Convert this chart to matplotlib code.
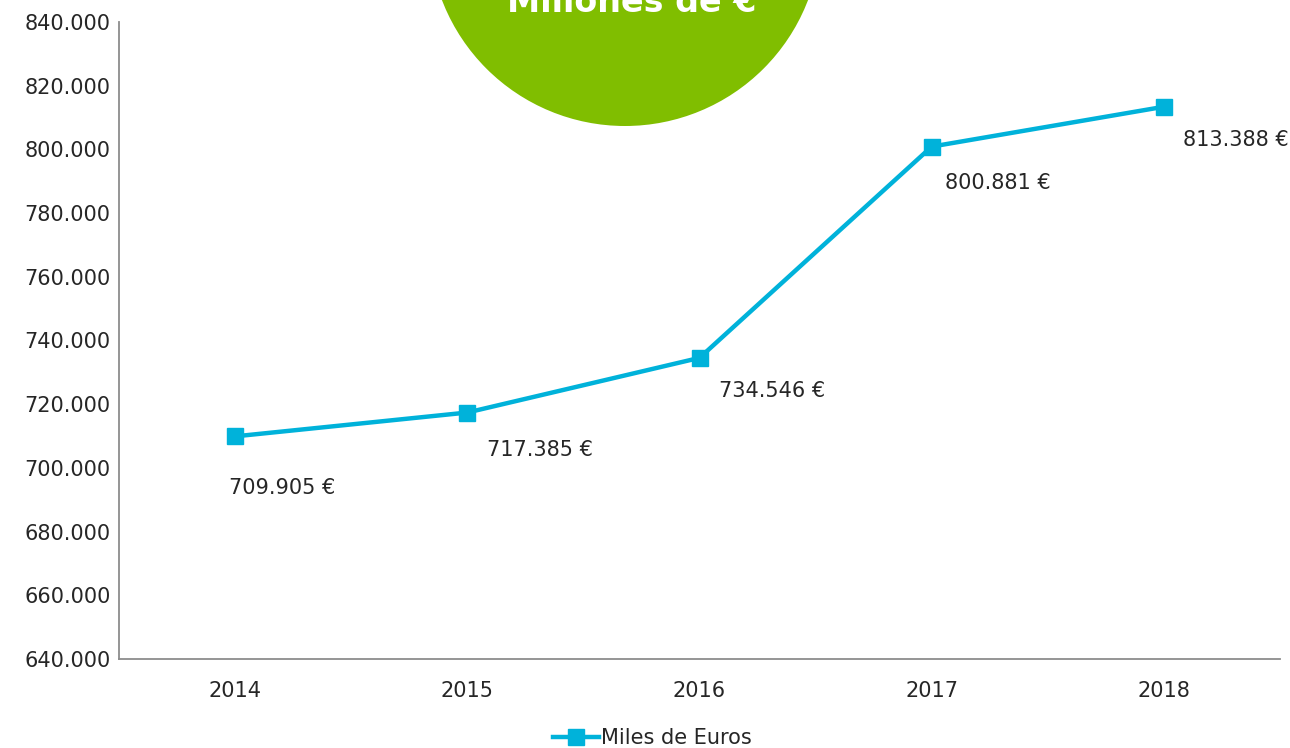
import matplotlib
matplotlib.use("Agg")
import matplotlib.pyplot as plt
from matplotlib.patches import Circle

plt.rcParams['font.family'] = ['DejaVu Sans']

# datos
anios = ["2014", "2015", "2016", "2017", "2018"]
miles_euros = [709905, 717385, 734546, 800881, 813388]
etiquetas = ["709.905 €", "717.385 €", "734.546 €", "800.881 €", "813.388 €"]
yticks = list(range(640000, 840001, 20000))
titulo = "Millones de €"

azul = "#00B2DA"
verde = "#80BE00"
gris_txt = "#262626"


def puntos(v):
    return "{:,}".format(v).replace(",", ".")


fig = plt.figure(figsize=(12.9, 7.48), dpi=100)
ax = fig.add_axes([119 / 1290, 1 - 659 / 748, (1280 - 119) / 1290, (659 - 22) / 748])

x = list(range(len(anios)))
ax.plot(x, miles_euros, color=azul, lw=3.2, marker="s", ms=11,
        label="Miles de Euros", zorder=3)

# la primera etiqueta va un poco mas abajo
desplaz = [(34, -37), (52, -27), (52, -24), (48, -26), (52, -24)]
for xi, yi, t, d in zip(x, miles_euros, etiquetas, desplaz):
    ax.annotate(t, (xi, yi), xytext=d, textcoords="offset points",
                ha="center", va="center", fontsize=15, color=gris_txt)

ax.set_xlim(-0.5, 4.5)
ax.set_ylim(640000, 840000)
ax.set_xticks(x)
ax.set_xticklabels(anios)
ax.set_yticks(yticks)
ax.set_yticklabels([puntos(v) for v in yticks])
ax.tick_params(length=0, labelsize=15, labelcolor=gris_txt)
ax.tick_params(axis="x", pad=16)
ax.tick_params(axis="y", pad=6)
for s in ["top", "right"]:
    ax.spines[s].set_visible(False)
for s in ["left", "bottom"]:
    ax.spines[s].set_color("#8c8c8c")
    ax.spines[s].set_linewidth(1.3)

fig.legend(loc="lower center", bbox_to_anchor=(0.506, -0.025), frameon=False,
           fontsize=15, handlelength=2.2, handletextpad=0.1,
           labelcolor=gris_txt)

# circulo verde arriba
over = fig.add_axes([0, 0, 1, 1], zorder=5)
over.set_xlim(0, 1290)
over.set_ylim(748, 0)
over.axis("off")
over.patch.set_alpha(0)
over.add_patch(Circle((625, -70), 196, color=verde, lw=0))
over.text(632, 12, titulo, ha="center", va="baseline", fontsize=24,
          fontweight="bold", color="white")

fig.savefig("out.png", dpi=100)
